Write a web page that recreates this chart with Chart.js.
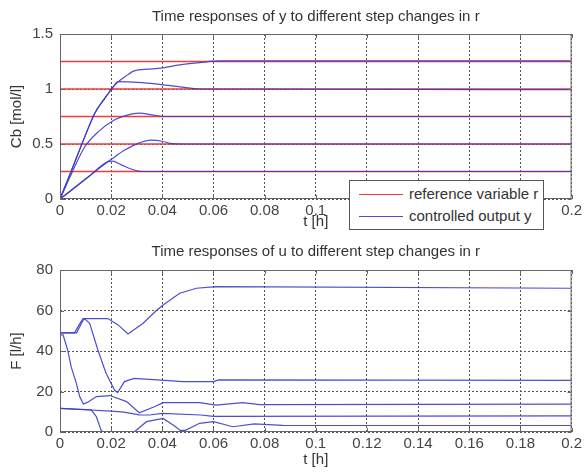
<!DOCTYPE html>
<html>
<head>
<meta charset="utf-8">
<script src="https://cdn.jsdelivr.net/npm/chart.js@4/dist/chart.umd.min.js"></script>
<style>
  html, body { margin: 0; padding: 0; background: #fff; }
  #wrap { position: relative; width: 585px; height: 472px; }
  canvas { position: absolute; left: 0; }
  #topPlot { top: 0; }
  #bottomPlot { top: 236px; }
  #legend {
    position: absolute; left: 349px; top: 180px; width: 193px; height: 48px;
    border: 1px solid #555; background: #fff;
    font: 15px 'Liberation Sans', Arial, sans-serif; color: #333;
  }
  .row { position: absolute; left: 0; width: 100%; height: 18px; line-height: 18px; }
  .swatch { position: absolute; left: 9px; top: 9px; width: 44px; border-top: 1.5px solid; }
  .lbl { position: absolute; left: 59px; white-space: nowrap; }
</style>
</head>
<body>
<div id="wrap">
  <canvas id="topPlot" width="585" height="236"></canvas>
  <canvas id="bottomPlot" width="585" height="236"></canvas>
  <div id="legend"></div>
</div>
<script>
const RED = '#f03c3c';
const BLUE = 'rgba(58,58,204,0.9)';

// time axis
const xTickLabels = ['0', '0.02', '0.04', '0.06', '0.08', '0.1', '0.12', '0.14', '0.16', '0.18', '0.2'];

// top plot: Cb [mol/l]
const topTitle = 'Time responses of y to different step changes in r';
const yTickLabelsTop = ['0', '0.5', '1', '1.5'];
const refLevels = [0.25, 0.5, 0.75, 1, 1.25];
const tRef = [0, 0.2];

const tY125 = [0, 0.0045, 0.0097, 0.0136, 0.0175, 0.0208, 0.023, 0.0253, 0.029, 0.0344, 0.0396, 0.0468, 0.0546, 0.0624, 0.2];
const y125  = [0, 0.26, 0.566, 0.78, 0.915, 1.02, 1.07, 1.11, 1.165, 1.18, 1.19, 1.22, 1.24, 1.255, 1.255];
const tY100 = [0, 0.0045, 0.0097, 0.0136, 0.0175, 0.0208, 0.0227, 0.0305, 0.0396, 0.0468, 0.0546, 0.2];
const y100  = [0, 0.26, 0.566, 0.78, 0.915, 1.02, 1.067, 1.06, 1.04, 1.02, 1.0, 0.995];
const tY075 = [0, 0.0045, 0.0097, 0.0149, 0.0214, 0.026, 0.031, 0.036, 0.041, 0.2];
const y075  = [0, 0.23, 0.475, 0.61, 0.72, 0.76, 0.78, 0.765, 0.75, 0.75];
const tY050 = [0, 0.011, 0.0188, 0.0215, 0.025, 0.0305, 0.0357, 0.04, 0.043, 0.047, 0.2];
const y050  = [0, 0.2, 0.34, 0.385, 0.44, 0.506, 0.536, 0.525, 0.506, 0.5, 0.5];
const tY025 = [0, 0.011, 0.0188, 0.0205, 0.024, 0.029, 0.033, 0.2];
const y025  = [0, 0.2, 0.34, 0.345, 0.31, 0.264, 0.25, 0.25];

// bottom plot: F [l/h]
const bottomTitle = 'Time responses of u to different step changes in r';
const yTickLabelsBottom = ['0', '20', '40', '60', '80'];

const tU125 = [0, 0.0057, 0.0075, 0.009, 0.0187, 0.0226, 0.0266, 0.0325, 0.0377, 0.0403, 0.0468, 0.0533, 0.061, 0.2];
const u125  = [49, 49, 53, 56, 56, 53, 48.4, 53.7, 60, 62.7, 68.5, 71, 71.8, 71];
const tU100 = [0, 0.0065, 0.0085, 0.0095, 0.0116, 0.0148, 0.018, 0.0213, 0.0225, 0.0252, 0.029, 0.038, 0.048, 0.06, 0.062, 0.2];
const u100  = [49, 49, 54, 56, 53.7, 40.5, 29, 20.7, 19.5, 24.9, 26.5, 25.7, 24.9, 24.9, 25.7, 25.5];
const tU075 = [0, 0.0012, 0.003, 0.0044, 0.0064, 0.0077, 0.0091, 0.0105, 0.0143, 0.0195, 0.026, 0.031, 0.0369, 0.0403, 0.0546, 0.061, 0.0714, 0.078, 0.2];
const u075  = [48, 48, 40.5, 32, 24, 17.5, 13.8, 14.5, 17.5, 18, 15, 9.5, 12.5, 14.5, 14.5, 13.3, 14.5, 13.5, 13.8];
const tU050 = [0, 0.01, 0.02, 0.025, 0.031, 0.035, 0.04, 0.055, 0.06, 0.2];
const u050  = [11.7, 11, 10.3, 9.8, 8.5, 8.4, 9.2, 8.4, 7.7, 8];
const tU025 = [0, 0.0122, 0.0142, 0.016, 0.0168, 0.029, 0.0338, 0.0403, 0.0448, 0.047, 0.049, 0.0546, 0.06, 0.0676, 0.076, 0.087, 0.2];
const u025  = [11.7, 10.9, 7.6, 1, 0, 0, 5.1, 6.7, 3, 0.8, 0.8, 4.3, 5.1, 2.6, 4, 3.3, 3.2];

const legendLabels = ['reference variable r', 'controlled output y'];

Chart.defaults.font.family = "'Liberation Sans', Arial, sans-serif";
Chart.defaults.font.size = 15;
Chart.defaults.color = '#333';

function pts(t, v) {
  return t.map((x, i) => ({ x: x, y: v[i] }));
}

function curve(t, v, color, order, label, width, smooth) {
  return {
    label: label,
    data: pts(t, v),
    borderColor: color,
    borderWidth: width,
    pointRadius: 0,
    showLine: true,
    fill: false,
    cubicInterpolationMode: smooth ? 'monotone' : 'default',
    tension: 0,
    order: order
  };
}

// axes box with small inward ticks, like the matlab figure
const boxPlugin = {
  id: 'box',
  afterDraw(chart) {
    const { ctx, chartArea: a, scales } = chart;
    ctx.save();
    ctx.strokeStyle = '#666';
    ctx.lineWidth = 1;
    ctx.strokeRect(a.left + 0.5, a.top + 0.5, a.width - 1, a.height - 1);
    ctx.beginPath();
    scales.x.ticks.forEach(tk => {
      const px = Math.round(scales.x.getPixelForValue(tk.value)) + 0.5;
      ctx.moveTo(px, a.top); ctx.lineTo(px, a.top + 4);
      ctx.moveTo(px, a.bottom); ctx.lineTo(px, a.bottom - 4);
    });
    scales.y.ticks.forEach(tk => {
      const py = Math.round(scales.y.getPixelForValue(tk.value)) + 0.5;
      ctx.moveTo(a.left, py); ctx.lineTo(a.left + 4, py);
      ctx.moveTo(a.right, py); ctx.lineTo(a.right - 4, py);
    });
    ctx.stroke();
    ctx.restore();
  }
};

function makeOptions(title, titlePad, yMax, yStep, yLabels, yTitle, xHeight, xTitlePad) {
  return {
    responsive: false,
    animation: false,
    layout: { padding: { left: 0, right: 12, top: 0, bottom: 0 } },
    plugins: {
      legend: { display: false },
      tooltip: { enabled: false },
      title: {
        display: true,
        text: title,
        fullSize: false,
        color: '#333',
        font: { size: 15, weight: 'normal' },
        padding: titlePad
      }
    },
    scales: {
      x: {
        type: 'linear',
        min: 0, max: 0.2,
        afterFit: s => { s.height = xHeight; },
        ticks: {
          stepSize: 0.02, autoSkip: false, maxRotation: 0, padding: 3, color: '#444',
          callback: (v, i) => xTickLabels[i]
        },
        grid: { color: '#555', lineWidth: 1, drawTicks: false },
        border: { display: false, dash: [2, 2] },
        title: { display: true, text: 't [h]', color: '#333', padding: { top: 0, bottom: xTitlePad } }
      },
      y: {
        type: 'linear',
        min: 0, max: yMax,
        afterFit: s => { s.width = 60; },
        ticks: {
          stepSize: yStep, padding: 7, color: '#444',
          callback: (v, i) => yLabels[i]
        },
        grid: { color: '#555', lineWidth: 1, drawTicks: false },
        border: { display: false, dash: [2, 2] },
        title: { display: true, text: yTitle, color: '#333', padding: { top: 8, bottom: 0 } }
      }
    }
  };
}

const topSets = refLevels.map(r => curve(tRef, tRef.map(() => r), RED, 2, legendLabels[0], 1.4, false))
  .concat([
    curve(tY025, y025, BLUE, 1, legendLabels[1], 1.2, true),
    curve(tY050, y050, BLUE, 1, legendLabels[1], 1.2, true),
    curve(tY075, y075, BLUE, 1, legendLabels[1], 1.2, true),
    curve(tY100, y100, BLUE, 1, legendLabels[1], 1.2, true),
    curve(tY125, y125, BLUE, 1, legendLabels[1], 1.2, true)
  ]);

new Chart(document.getElementById('topPlot'), {
  type: 'scatter',
  data: { datasets: topSets },
  options: makeOptions(topTitle, { top: 8, bottom: 8 }, 1.5, 0.5, yTickLabelsTop, 'Cb [mol/l]', 37, 5),
  plugins: [boxPlugin]
});

new Chart(document.getElementById('bottomPlot'), {
  type: 'scatter',
  data: {
    datasets: [
      curve(tU025, u025, BLUE, 1, 'u', 1.2, false),
      curve(tU050, u050, BLUE, 1, 'u', 1.2, false),
      curve(tU075, u075, BLUE, 1, 'u', 1.2, false),
      curve(tU100, u100, BLUE, 1, 'u', 1.2, false),
      curve(tU125, u125, BLUE, 1, 'u', 1.2, false)
    ]
  },
  options: makeOptions(bottomTitle, { top: 7, bottom: 9 }, 80, 20, yTickLabelsBottom, 'F [l/h]', 40, 3),
  plugins: [boxPlugin]
});

// legend box for the top plot
const legendEl = document.getElementById('legend');
[RED, BLUE].forEach((c, i) => {
  const row = document.createElement('div');
  row.className = 'row';
  row.style.top = (4 + i * 22) + 'px';
  row.innerHTML = '<span class="swatch" style="border-color:' + c + '"></span><span class="lbl">' + legendLabels[i] + '</span>';
  legendEl.appendChild(row);
});
</script>
</body>
</html>
